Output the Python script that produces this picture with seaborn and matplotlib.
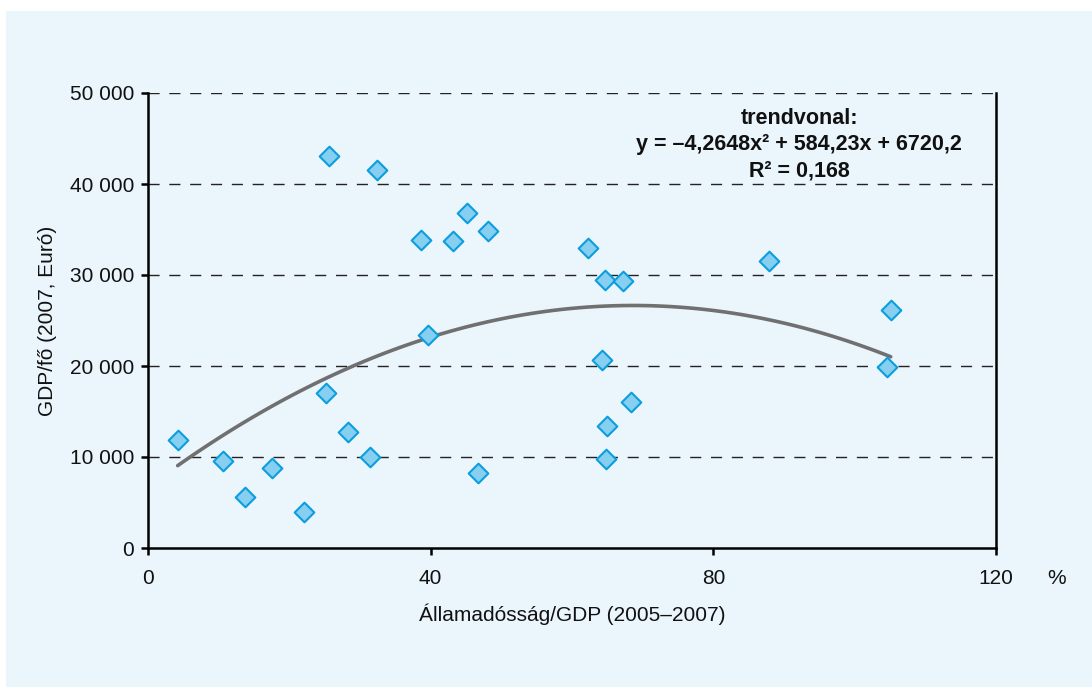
import matplotlib
matplotlib.use("Agg")
import matplotlib.pyplot as plt
import seaborn as sns
import pandas as pd
from matplotlib.patches import Rectangle

# ---- data ----
debt_pct = [4.2, 10.6, 13.7, 17.5, 22.1, 25.6, 25.2, 28.3, 31.4, 32.4,
            38.6, 39.6, 43.2, 45.1, 48.1, 46.7, 62.3, 64.7, 67.2, 64.2,
            64.9, 64.8, 68.3, 87.9, 105.1, 104.6]
gdp_per_capita = [11870, 9560, 5600, 8800, 3960, 43080, 17030, 12750, 10000, 41550,
                  33850, 23400, 33740, 36820, 34840, 8240, 32970, 29450, 29340, 20660,
                  13400, 9780, 16040, 31540, 26160, 19890]
x_ticks = [0, 40, 80, 120]
x_tick_labels = ["0", "40", "80", "120"]
y_ticks = [0, 10000, 20000, 30000, 40000, 50000]
y_tick_labels = ["0", "10 000", "20 000", "30 000", "40 000", "50 000"]
trend_text = ["trendvonal:", "y = –4,2648x² + 584,23x + 6720,2", "R² = 0,168"]
x_label = "Államadósság/GDP (2005–2007)"
y_label = "GDP/fő (2007, Euró)"

df = pd.DataFrame({"debt": debt_pct, "gdp": gdp_per_capita})

sns.set_theme(style="white")
plt.rcParams["font.family"] = ["Liberation Sans", "DejaVu Sans"]

BG = "#EBF5FC"
FS = 15
fig = plt.figure(figsize=(10.92, 6.87), dpi=100, facecolor="white")
fig.patches.append(Rectangle((6 / 1092, 0), 1 - 6 / 1092, 1 - 11 / 687,
                             transform=fig.transFigure, facecolor=BG,
                             edgecolor="none", zorder=-10))
ax = fig.add_axes([148 / 1092, 139 / 687, 848 / 1092, 455 / 687])
ax.set_facecolor(BG)

# gridlines
for yv in y_ticks[1:]:
    ax.axhline(yv, color="#222222", lw=1.0, ls=(0, (8, 7)), zorder=1)

sns.regplot(data=df, x="debt", y="gdp", order=2, ci=None, scatter=False,
            ax=ax, line_kws=dict(color="#707070", lw=2.6, zorder=2))
sns.scatterplot(data=df, x="debt", y="gdp", marker="D", s=100,
                color="#87CFF0", edgecolor="#0B9EDE", linewidth=1.5,
                ax=ax, zorder=3)

ax.set_xlim(0, 120)
ax.set_ylim(0, 50000)
ax.set_xticks(x_ticks)
ax.set_xticklabels(x_tick_labels)
ax.set_yticks(y_ticks)
ax.set_yticklabels(y_tick_labels)
ax.tick_params(axis="both", direction="out", length=5, width=1.8,
               labelsize=FS, color="black", labelcolor="#111111")
ax.tick_params(axis="x", pad=10)
ax.tick_params(axis="y", pad=5)
ax.tick_params(bottom=True, left=True)

for side in ["left", "bottom", "right"]:
    ax.spines[side].set_visible(True)
    ax.spines[side].set_color("black")
    ax.spines[side].set_linewidth(1.8)
ax.spines["top"].set_visible(False)

ax.set_xlabel(x_label, fontsize=FS, color="#111111", labelpad=11)
ax.set_ylabel(y_label, fontsize=FS, color="#111111", labelpad=9)

ax.text(1.072, -0.066, "%", transform=ax.transAxes, fontsize=FS,
        ha="center", va="center", color="#111111")

ax.text(0.768, 0.966, "\n".join(trend_text), transform=ax.transAxes,
        fontsize=15.5, fontweight="bold", ha="center", va="top",
        linespacing=1.3, color="#111111")

fig.savefig("out.png", dpi=100, facecolor="white")
